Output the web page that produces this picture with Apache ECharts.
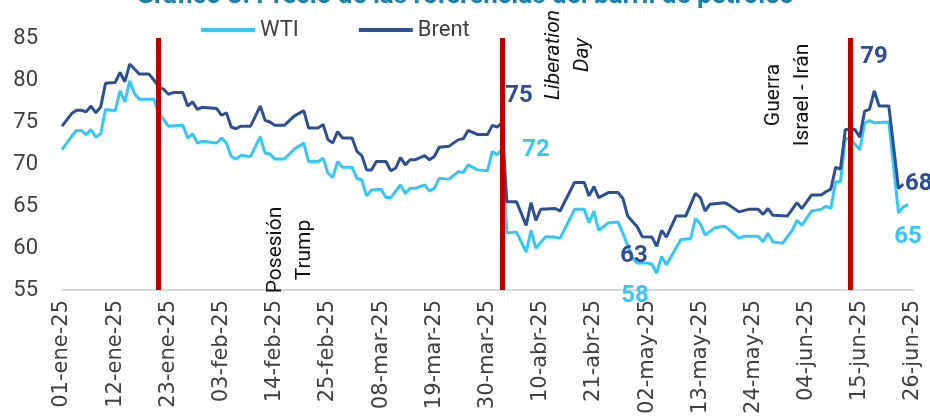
<!DOCTYPE html>
<html>
<head>
<meta charset="utf-8">
<script src="https://cdn.jsdelivr.net/npm/echarts@6/dist/echarts.min.js"></script>
<style>
  html, body { margin: 0; padding: 0; background: #fff; }
  #chart { width: 930px; height: 418px; }
</style>
</head>
<body>
<div id="chart"></div>
<script>
// fechas y precios (USD/barril)
var fechasBrent = ['2025-01-01','2025-01-03','2025-01-04','2025-01-05','2025-01-06','2025-01-07','2025-01-08','2025-01-09','2025-01-10','2025-01-12',
  '2025-01-13','2025-01-14','2025-01-15','2025-01-16','2025-01-17','2025-01-19','2025-01-20','2025-01-21','2025-01-22','2025-01-23',
  '2025-01-24','2025-01-26','2025-01-27','2025-01-28','2025-01-29','2025-01-30','2025-02-02','2025-02-03','2025-02-04','2025-02-05',
  '2025-02-06','2025-02-07','2025-02-09','2025-02-11','2025-02-12','2025-02-13','2025-02-14','2025-02-16','2025-02-18','2025-02-20',
  '2025-02-21','2025-02-23','2025-02-24','2025-02-25','2025-02-26','2025-02-27','2025-02-28','2025-03-02','2025-03-03','2025-03-04',
  '2025-03-05','2025-03-06','2025-03-07','2025-03-09','2025-03-10','2025-03-11','2025-03-12','2025-03-13','2025-03-14','2025-03-15',
  '2025-03-17','2025-03-18','2025-03-19','2025-03-20','2025-03-22','2025-03-24','2025-03-25','2025-03-26','2025-03-28','2025-03-30',
  '2025-03-31','2025-04-01','2025-04-02','2025-04-03','2025-04-05','2025-04-07','2025-04-08','2025-04-09','2025-04-10','2025-04-13',
  '2025-04-14','2025-04-17','2025-04-19','2025-04-20','2025-04-21','2025-04-22','2025-04-24','2025-04-26','2025-04-27','2025-04-28',
  '2025-04-30','2025-05-01','2025-05-03','2025-05-04','2025-05-05','2025-05-06','2025-05-08','2025-05-10','2025-05-12','2025-05-13',
  '2025-05-14','2025-05-15','2025-05-18','2025-05-19','2025-05-21','2025-05-23','2025-05-25','2025-05-26','2025-05-27','2025-05-28',
  '2025-05-31','2025-06-02','2025-06-03','2025-06-05','2025-06-07','2025-06-08','2025-06-09','2025-06-10','2025-06-11','2025-06-12',
  '2025-06-14','2025-06-15','2025-06-16','2025-06-17','2025-06-18','2025-06-19','2025-06-21','2025-06-23','2025-06-24'];
var brent = [74.5,76.0,76.4,76.4,76.2,76.9,76.1,76.8,79.6,79.7,
  80.9,79.8,81.9,81.3,80.7,80.7,80.0,79.2,78.9,78.3,
  78.5,78.5,76.9,77.4,76.5,76.75,76.6,75.8,76.1,74.4,
  74.2,74.5,74.5,76.9,75.2,75.0,74.6,74.6,75.7,76.35,
  74.3,74.3,74.7,72.9,72.5,73.85,73.1,73.1,71.5,71.0,
  69.3,69.3,70.3,70.3,69.2,69.5,70.75,69.9,70.5,70.5,
  71.0,70.5,70.9,72.0,72.1,72.9,73.0,74.0,73.5,73.5,
  74.6,74.4,74.9,65.5,65.5,62.7,65.4,63.3,64.6,64.7,
  64.4,67.8,67.8,66.2,67.3,66.0,66.6,66.6,65.9,63.8,
  62.5,61.35,61.3,60.2,62.1,61.3,63.8,63.8,66.5,66.0,
  64.4,65.2,65.4,65.1,64.3,64.6,64.6,64.0,64.7,63.9,
  63.8,65.4,64.7,66.3,66.3,66.7,67.0,69.6,69.4,74.1,
  74.1,73.2,76.3,76.5,78.7,76.9,76.9,67.1,67.6];

var fechasWTI = ['2025-01-01','2025-01-03','2025-01-04','2025-01-05','2025-01-06','2025-01-07','2025-01-08','2025-01-09','2025-01-10','2025-01-12',
  '2025-01-13','2025-01-14','2025-01-15','2025-01-16','2025-01-17','2025-01-20','2025-01-21','2025-01-22','2025-01-23','2025-01-26',
  '2025-01-27','2025-01-28','2025-01-29','2025-01-30','2025-02-02','2025-02-03','2025-02-04','2025-02-05','2025-02-06','2025-02-07',
  '2025-02-09','2025-02-11','2025-02-12','2025-02-13','2025-02-14','2025-02-16','2025-02-18','2025-02-20','2025-02-21','2025-02-23',
  '2025-02-24','2025-02-25','2025-02-26','2025-02-27','2025-02-28','2025-03-02','2025-03-03','2025-03-04','2025-03-05','2025-03-06',
  '2025-03-08','2025-03-09','2025-03-10','2025-03-12','2025-03-13','2025-03-14','2025-03-15','2025-03-17','2025-03-18','2025-03-19',
  '2025-03-20','2025-03-22','2025-03-24','2025-03-25','2025-03-26','2025-03-28','2025-03-30','2025-03-31','2025-04-01','2025-04-02',
  '2025-04-03','2025-04-05','2025-04-07','2025-04-08','2025-04-09','2025-04-11','2025-04-13','2025-04-14','2025-04-17','2025-04-19',
  '2025-04-20','2025-04-21','2025-04-22','2025-04-24','2025-04-26','2025-04-27','2025-04-29','2025-04-30','2025-05-02','2025-05-03',
  '2025-05-04','2025-05-05','2025-05-06','2025-05-09','2025-05-11','2025-05-12','2025-05-13','2025-05-14','2025-05-16','2025-05-18',
  '2025-05-19','2025-05-21','2025-05-22','2025-05-25','2025-05-26','2025-05-27','2025-05-28','2025-05-30','2025-06-01','2025-06-02',
  '2025-06-03','2025-06-05','2025-06-07','2025-06-08','2025-06-09','2025-06-10','2025-06-11','2025-06-12','2025-06-13','2025-06-15',
  '2025-06-16','2025-06-17','2025-06-18','2025-06-21','2025-06-23','2025-06-24','2025-06-25'];
var wti = [71.7,73.3,74.0,74.0,73.5,74.1,73.2,73.6,76.5,76.35,
  78.7,77.4,79.9,78.4,77.7,77.7,76.0,75.3,74.5,74.6,
  73.1,73.6,72.5,72.7,72.5,73.1,72.5,70.9,70.6,71.0,
  70.9,73.25,71.3,71.2,70.6,70.6,71.75,72.5,70.3,70.3,
  70.7,68.9,68.4,70.3,69.6,69.6,68.3,68.1,66.2,66.9,
  67.0,66.0,66.0,67.5,66.5,67.1,67.1,67.5,66.8,67.1,
  68.3,68.2,69.1,69.0,69.9,69.3,69.2,71.5,71.1,71.75,
  61.8,61.9,59.5,62.1,60.0,61.35,61.3,61.15,64.6,64.6,
  63.0,64.4,62.1,63.0,63.1,61.75,58.8,58.2,58.2,58.1,
  57.0,59.0,58.0,61.0,61.1,63.5,62.9,61.55,62.4,62.6,
  62.2,61.15,61.4,61.4,60.75,61.75,60.75,60.55,62.1,63.3,
  62.7,64.4,64.6,65.0,64.7,67.9,67.9,73.0,73.0,71.7,
  74.9,75.15,74.9,75.0,64.2,64.9,65.2];

// eventos marcados con linea roja
var fechasEventos = ['2025-01-21', '2025-04-02', '2025-06-13'];

var mesesES = ['ene','feb','mar','abr','may','jun','jul','ago','sep','oct','nov','dic'];
var base = Date.UTC(2025, 0, 1);
var DIA = 86400000;

function aDia(f) {
  var p = f.split('-');
  return (Date.UTC(+p[0], +p[1] - 1, +p[2]) - base) / DIA;
}
function etiqueta(v) {
  var d = new Date(base + v * DIA);
  var dd = d.getUTCDate();
  return (dd < 10 ? '0' + dd : dd) + '-' + mesesES[d.getUTCMonth()] + '-25';
}
function pares(fechas, vals) {
  var out = [];
  for (var i = 0; i < fechas.length; i++) out.push([aDia(fechas[i]), vals[i]]);
  return out;
}

var colWTI = '#35c8f6';
var colBrent = '#2d4f94';
var colRojo = '#c00000';

var chart = echarts.init(document.getElementById('chart'));

var txtAnot = function (x, y, text, italic) {
  return {
    type: 'text', x: x, y: y, rotation: Math.PI / 2, z: 50,
    style: {
      text: text, fill: '#111', align: 'center', verticalAlign: 'middle',
      font: (italic ? 'italic ' : '') + '21px Roboto', lineHeight: 29
    }
  };
};
var txtValor = function (x, y, text, color, align) {
  return {
    type: 'text', x: x, y: y, z: 50,
    style: {
      text: text, fill: color, align: align || 'center', verticalAlign: 'middle',
      font: 'bold 24px Roboto'
    }
  };
};

var option = {
  animation: false,
  title: {
    text: 'Gráfico 3: Precio de las referencias del barril de petróleo',
    left: 'center',
    top: -22,
    textStyle: { color: '#1b7fa8', fontSize: 26, fontWeight: 'bold', fontFamily: 'Roboto' }
  },
  legend: {
    data: ['WTI', 'Brent'],
    left: 196,
    top: 14,
    icon: 'rect',
    itemWidth: 54,
    itemHeight: 4,
    itemGap: 60,
    textStyle: { fontSize: 22, color: '#404040', fontFamily: 'Roboto' }
  },
  grid: { left: 62, right: 17, top: 38, bottom: 128 },
  xAxis: {
    type: 'value',
    min: 0,
    max: 176,
    interval: 11,
    axisLine: { lineStyle: { color: '#d9d9d9', width: 2 } },
    axisTick: { show: false },
    splitLine: { show: false },
    axisLabel: {
      rotate: 90,
      margin: 10,
      fontSize: 21,
      fontFamily: 'DejaVu Sans',
      color: '#404040',
      formatter: etiqueta
    }
  },
  yAxis: {
    type: 'value',
    min: 55,
    max: 85,
    interval: 5,
    axisLine: { show: false },
    axisTick: { show: false },
    splitLine: { show: false },
    axisLabel: { fontSize: 22, fontFamily: 'Roboto', color: '#404040', margin: 24 }
  },
  series: [
    {
      name: 'eventos',
      type: 'line',
      data: [],
      z: 1,
      markLine: {
        silent: true,
        symbol: 'none',
        label: { show: false },
        lineStyle: { color: colRojo, width: 5, type: 'solid' },
        data: fechasEventos.map(function (f) { return { xAxis: aDia(f) }; })
      }
    },
    {
      name: 'WTI',
      type: 'line',
      z: 3,
      data: pares(fechasWTI, wti),
      showSymbol: false,
      lineStyle: { color: colWTI, width: 3 },
      itemStyle: { color: colWTI }
    },
    {
      name: 'Brent',
      type: 'line',
      z: 4,
      data: pares(fechasBrent, brent),
      showSymbol: false,
      lineStyle: { color: colBrent, width: 3 },
      itemStyle: { color: colBrent }
    }
  ],
  graphic: [
    txtAnot(290, 250, 'Posesión\nTrump', false),
    txtAnot(568, 55, 'Liberation\nDay', true),
    txtAnot(788, 95, 'Guerra\nIsrael - Irán', false),
    txtValor(519, 96, '75', colBrent),
    txtValor(536, 150, '72', colWTI),
    txtValor(634, 256, '63', colBrent),
    txtValor(635, 296, '58', colWTI),
    txtValor(874, 57, '79', colBrent),
    txtValor(905, 184, '68', colBrent, 'left'),
    txtValor(908, 237, '65', colWTI)
  ]
};

chart.setOption(option);
</script>
</body>
</html>
